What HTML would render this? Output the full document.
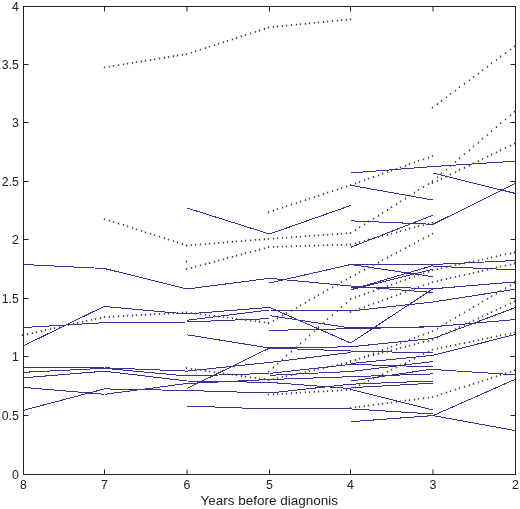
<!DOCTYPE html>
<html><head><meta charset="utf-8"><title>Chart</title>
<style>
html,body{margin:0;padding:0;background:#fff;width:520px;height:509px;overflow:hidden;}
svg{display:block;font-family:"Liberation Sans",sans-serif;}
</style></head><body>
<svg width="520" height="509" viewBox="0 0 520 509"><path d="M23.5 264.5L104.5 268.5M23.5 327.5L104.5 322.7M23.5 345.8L104.5 306.2M23.5 367.4L104.5 367.8M23.5 372.3L104.5 368.3M23.5 377.8L104.5 371.2M23.5 387.4L104.5 394.3M23.5 410.3L104.5 388.9M104.5 268.5L187 289M104.5 306.5L187 314M104.5 322.7L187 322M104.5 367.8L187 371.1M104.5 368.3L187 376M104.5 371.2L187 381M104.5 388.9L187 390.5M104.5 394.3L187 383.5M187 208L269.5 234M187 289L269.5 278.3M187 314L269.5 307.4M187 320.3L269.5 310M187 322L269.5 318.6M187 334.8L269.5 348M187 371.1L269.5 362.4M187 376L269.5 373.4M187 381L269.5 382.4M187 383.5L269.5 379.5M187 388.5L269.5 348M187 390.5L269.5 393M187 406L269.5 409M269.5 234L350.7 205.5M269.5 278.3L350.7 286M269.5 283L350.7 264.5M269.5 307.4L350.7 343M269.5 310L350.7 311M269.5 315.6L350.7 328M269.5 330.4L350.7 328.7M269.5 348L350.7 346.8M269.5 348L350.7 351M269.5 362.4L350.7 352.5M269.5 373.4L350.7 364.4M269.5 375.3L350.7 371.5M269.5 379.5L350.7 376.7M269.5 382.4L350.7 388.6M269.5 393L350.7 384.2M269.5 409L350.7 408.9M350.7 173L433 166.5M350.7 185.3L433 200M350.7 220.8L433 224.3M350.7 247.3L433 215.2M350.7 264.5L433 264.5M350.7 264.5L433 276.7M350.7 289.8L433 265.5M350.7 289.8L433 269.2M350.7 286L433 292.5M350.7 287.5L433 288.2M350.7 343L433 288.8M350.7 311L433 302M350.7 328L433 326.8M350.7 328.7L433 326.8M350.7 346.8L433 338.5M350.7 351L433 353M350.7 363.5L433 355.3M350.7 364.4L433 366.8M350.7 371.5L433 361.5M350.7 376.7L433 373.9M350.7 381.1L433 369M350.7 384.2L433 381M350.7 387.7L433 383.2M350.7 389.5L433 410M350.7 408.9L433 414M350.7 421.7L433 415.6M433 166.5L515.5 161.2M433 173L515.5 193.5M433 224.3L515.5 183.2M433 264.5L515.5 260.5M433 266.2L515.5 269.9M433 288.8L515.5 281.9M433 302L515.5 289.2M433 326.8L515.5 319.5M433 338.5L515.5 307.5M433 355.3L515.5 334.4M433 369.5L515.5 374.8M433 415.6L515.5 379.2M433 415.6L515.5 430.6" stroke="rgb(52,52,150)" stroke-width="1" fill="none" shape-rendering="crispEdges"/><path d="M21.82 334.22h1.35v1.8h-1.35zM26.82 333.21h1.35v1.8h-1.35zM31.82 332.2h1.35v1.8h-1.35zM35.83 331.19h1.35v1.8h-1.35zM40.83 330.18h1.35v1.8h-1.35zM44.83 329.16h1.35v1.8h-1.35zM49.83 328.15h1.35v1.8h-1.35zM53.83 327.14h1.35v1.8h-1.35zM58.83 326.13h1.35v1.8h-1.35zM62.83 325.12h1.35v1.8h-1.35zM67.83 324.11h1.35v1.8h-1.35zM72.83 323.1h1.35v1.8h-1.35zM76.83 322.08h1.35v1.8h-1.35zM81.83 321.07h1.35v1.8h-1.35zM85.83 320.06h1.35v1.8h-1.35zM90.83 319.05h1.35v1.8h-1.35zM94.83 318.04h1.35v1.8h-1.35zM99.83 317.03h1.35v1.8h-1.35zM103.83 316.01h1.35v1.8h-1.35zM103.83 66.54h1.35v1.8h-1.35zM108.83 65.79h1.35v1.8h-1.35zM112.83 65.05h1.35v1.8h-1.35zM117.83 64.3h1.35v1.8h-1.35zM122.83 63.56h1.35v1.8h-1.35zM126.83 62.81h1.35v1.8h-1.35zM131.82 62.07h1.35v1.8h-1.35zM135.82 61.32h1.35v1.8h-1.35zM140.82 60.58h1.35v1.8h-1.35zM144.82 59.83h1.35v1.8h-1.35zM149.82 59.09h1.35v1.8h-1.35zM153.82 58.34h1.35v1.8h-1.35zM158.82 57.6h1.35v1.8h-1.35zM163.82 56.85h1.35v1.8h-1.35zM167.82 56.11h1.35v1.8h-1.35zM172.82 55.36h1.35v1.8h-1.35zM176.82 54.62h1.35v1.8h-1.35zM181.82 53.87h1.35v1.8h-1.35zM185.82 53.13h1.35v1.8h-1.35zM103.83 218.22h1.35v1.8h-1.35zM108.83 219.69h1.35v1.8h-1.35zM112.83 221.15h1.35v1.8h-1.35zM117.83 222.61h1.35v1.8h-1.35zM122.83 224.07h1.35v1.8h-1.35zM126.83 225.53h1.35v1.8h-1.35zM131.82 227h1.35v1.8h-1.35zM135.82 228.46h1.35v1.8h-1.35zM140.82 229.92h1.35v1.8h-1.35zM144.82 231.38h1.35v1.8h-1.35zM149.82 232.84h1.35v1.8h-1.35zM153.82 234.31h1.35v1.8h-1.35zM158.82 235.77h1.35v1.8h-1.35zM163.82 237.23h1.35v1.8h-1.35zM167.82 238.69h1.35v1.8h-1.35zM172.82 240.16h1.35v1.8h-1.35zM176.82 241.62h1.35v1.8h-1.35zM181.82 243.08h1.35v1.8h-1.35zM185.82 244.54h1.35v1.8h-1.35zM103.83 316.08h1.35v1.8h-1.35zM108.83 315.83h1.35v1.8h-1.35zM112.83 315.58h1.35v1.8h-1.35zM117.83 315.33h1.35v1.8h-1.35zM122.83 315.09h1.35v1.8h-1.35zM126.83 314.84h1.35v1.8h-1.35zM131.82 314.59h1.35v1.8h-1.35zM135.82 314.34h1.35v1.8h-1.35zM140.82 314.09h1.35v1.8h-1.35zM144.82 313.84h1.35v1.8h-1.35zM149.82 313.6h1.35v1.8h-1.35zM153.82 313.35h1.35v1.8h-1.35zM158.82 313.1h1.35v1.8h-1.35zM163.82 312.85h1.35v1.8h-1.35zM167.82 312.6h1.35v1.8h-1.35zM172.82 312.35h1.35v1.8h-1.35zM176.82 312.11h1.35v1.8h-1.35zM181.82 311.86h1.35v1.8h-1.35zM185.82 311.61h1.35v1.8h-1.35zM185.82 53.16h1.35v1.8h-1.35zM190.82 51.69h1.35v1.8h-1.35zM194.82 50.21h1.35v1.8h-1.35zM199.82 48.74h1.35v1.8h-1.35zM204.82 47.27h1.35v1.8h-1.35zM208.82 45.79h1.35v1.8h-1.35zM213.82 44.32h1.35v1.8h-1.35zM217.82 42.85h1.35v1.8h-1.35zM222.82 41.37h1.35v1.8h-1.35zM226.82 39.9h1.35v1.8h-1.35zM231.82 38.43h1.35v1.8h-1.35zM235.82 36.95h1.35v1.8h-1.35zM240.82 35.48h1.35v1.8h-1.35zM244.82 34.01h1.35v1.8h-1.35zM249.82 32.53h1.35v1.8h-1.35zM254.82 31.06h1.35v1.8h-1.35zM258.82 29.59h1.35v1.8h-1.35zM263.82 28.11h1.35v1.8h-1.35zM267.82 26.64h1.35v1.8h-1.35zM185.82 244.61h1.35v1.8h-1.35zM190.82 244.24h1.35v1.8h-1.35zM194.82 243.88h1.35v1.8h-1.35zM199.82 243.51h1.35v1.8h-1.35zM204.82 243.14h1.35v1.8h-1.35zM208.82 242.77h1.35v1.8h-1.35zM213.82 242.4h1.35v1.8h-1.35zM217.82 242.03h1.35v1.8h-1.35zM222.82 241.66h1.35v1.8h-1.35zM226.82 241.29h1.35v1.8h-1.35zM231.82 240.92h1.35v1.8h-1.35zM235.82 240.55h1.35v1.8h-1.35zM240.82 240.18h1.35v1.8h-1.35zM244.82 239.81h1.35v1.8h-1.35zM249.82 239.44h1.35v1.8h-1.35zM254.82 239.07h1.35v1.8h-1.35zM258.82 238.7h1.35v1.8h-1.35zM263.82 238.33h1.35v1.8h-1.35zM267.82 237.96h1.35v1.8h-1.35zM185.82 268.15h1.35v1.8h-1.35zM190.82 266.93h1.35v1.8h-1.35zM194.82 265.72h1.35v1.8h-1.35zM199.82 264.51h1.35v1.8h-1.35zM204.82 263.29h1.35v1.8h-1.35zM208.82 262.08h1.35v1.8h-1.35zM213.82 260.86h1.35v1.8h-1.35zM217.82 259.65h1.35v1.8h-1.35zM222.82 258.44h1.35v1.8h-1.35zM226.82 257.22h1.35v1.8h-1.35zM231.82 256.01h1.35v1.8h-1.35zM235.82 254.8h1.35v1.8h-1.35zM240.82 253.58h1.35v1.8h-1.35zM244.82 252.37h1.35v1.8h-1.35zM249.82 251.15h1.35v1.8h-1.35zM254.82 249.94h1.35v1.8h-1.35zM258.82 248.73h1.35v1.8h-1.35zM263.82 247.51h1.35v1.8h-1.35zM267.82 246.3h1.35v1.8h-1.35zM185.82 311.58h1.35v1.8h-1.35zM190.82 312.16h1.35v1.8h-1.35zM194.82 312.74h1.35v1.8h-1.35zM199.82 313.32h1.35v1.8h-1.35zM204.82 313.89h1.35v1.8h-1.35zM208.82 314.47h1.35v1.8h-1.35zM213.82 315.05h1.35v1.8h-1.35zM217.82 315.63h1.35v1.8h-1.35zM222.82 316.21h1.35v1.8h-1.35zM226.82 316.79h1.35v1.8h-1.35zM231.82 317.37h1.35v1.8h-1.35zM235.82 317.95h1.35v1.8h-1.35zM240.82 318.53h1.35v1.8h-1.35zM244.82 319.11h1.35v1.8h-1.35zM249.82 319.69h1.35v1.8h-1.35zM254.82 320.27h1.35v1.8h-1.35zM258.82 320.85h1.35v1.8h-1.35zM263.82 321.43h1.35v1.8h-1.35zM267.82 322.01h1.35v1.8h-1.35zM185.82 367.27h1.35v1.8h-1.35zM190.82 367.93h1.35v1.8h-1.35zM194.82 368.58h1.35v1.8h-1.35zM199.82 369.23h1.35v1.8h-1.35zM204.82 369.88h1.35v1.8h-1.35zM208.82 370.53h1.35v1.8h-1.35zM213.82 371.18h1.35v1.8h-1.35zM217.82 371.83h1.35v1.8h-1.35zM222.82 372.48h1.35v1.8h-1.35zM226.82 373.13h1.35v1.8h-1.35zM231.82 373.78h1.35v1.8h-1.35zM235.82 374.44h1.35v1.8h-1.35zM240.82 375.09h1.35v1.8h-1.35zM244.82 375.74h1.35v1.8h-1.35zM249.82 376.39h1.35v1.8h-1.35zM254.82 377.04h1.35v1.8h-1.35zM258.82 377.69h1.35v1.8h-1.35zM263.82 378.34h1.35v1.8h-1.35zM267.82 378.99h1.35v1.8h-1.35zM267.82 26.47h1.35v1.8h-1.35zM272.82 26.02h1.35v1.8h-1.35zM276.82 25.58h1.35v1.8h-1.35zM281.82 25.13h1.35v1.8h-1.35zM285.82 24.68h1.35v1.8h-1.35zM290.82 24.23h1.35v1.8h-1.35zM295.82 23.78h1.35v1.8h-1.35zM299.82 23.33h1.35v1.8h-1.35zM304.82 22.89h1.35v1.8h-1.35zM308.82 22.44h1.35v1.8h-1.35zM313.82 21.99h1.35v1.8h-1.35zM317.82 21.54h1.35v1.8h-1.35zM322.82 21.09h1.35v1.8h-1.35zM326.82 20.64h1.35v1.8h-1.35zM331.82 20.19h1.35v1.8h-1.35zM336.82 19.75h1.35v1.8h-1.35zM340.82 19.3h1.35v1.8h-1.35zM345.82 18.85h1.35v1.8h-1.35zM349.82 18.4h1.35v1.8h-1.35zM267.82 211.35h1.35v1.8h-1.35zM272.82 209.83h1.35v1.8h-1.35zM276.82 208.32h1.35v1.8h-1.35zM281.82 206.81h1.35v1.8h-1.35zM285.82 205.29h1.35v1.8h-1.35zM290.82 203.78h1.35v1.8h-1.35zM295.82 202.27h1.35v1.8h-1.35zM299.82 200.75h1.35v1.8h-1.35zM304.82 199.24h1.35v1.8h-1.35zM308.82 197.73h1.35v1.8h-1.35zM313.82 196.21h1.35v1.8h-1.35zM317.82 194.7h1.35v1.8h-1.35zM322.82 193.18h1.35v1.8h-1.35zM326.82 191.67h1.35v1.8h-1.35zM331.82 190.16h1.35v1.8h-1.35zM336.82 188.64h1.35v1.8h-1.35zM340.82 187.13h1.35v1.8h-1.35zM345.82 185.62h1.35v1.8h-1.35zM349.82 184.1h1.35v1.8h-1.35zM267.82 237.95h1.35v1.8h-1.35zM272.82 237.63h1.35v1.8h-1.35zM276.82 237.3h1.35v1.8h-1.35zM281.82 236.98h1.35v1.8h-1.35zM285.82 236.65h1.35v1.8h-1.35zM290.82 236.33h1.35v1.8h-1.35zM295.82 236h1.35v1.8h-1.35zM299.82 235.68h1.35v1.8h-1.35zM304.82 235.35h1.35v1.8h-1.35zM308.82 235.03h1.35v1.8h-1.35zM313.82 234.7h1.35v1.8h-1.35zM317.82 234.38h1.35v1.8h-1.35zM322.82 234.05h1.35v1.8h-1.35zM326.82 233.73h1.35v1.8h-1.35zM331.82 233.4h1.35v1.8h-1.35zM336.82 233.08h1.35v1.8h-1.35zM340.82 232.75h1.35v1.8h-1.35zM345.82 232.43h1.35v1.8h-1.35zM349.82 232.1h1.35v1.8h-1.35zM267.82 246.12h1.35v1.8h-1.35zM272.82 245.98h1.35v1.8h-1.35zM276.82 245.84h1.35v1.8h-1.35zM281.82 245.7h1.35v1.8h-1.35zM285.82 245.56h1.35v1.8h-1.35zM290.82 245.42h1.35v1.8h-1.35zM295.82 245.28h1.35v1.8h-1.35zM299.82 245.14h1.35v1.8h-1.35zM304.82 245h1.35v1.8h-1.35zM308.82 244.86h1.35v1.8h-1.35zM313.82 244.72h1.35v1.8h-1.35zM317.82 244.58h1.35v1.8h-1.35zM322.82 244.44h1.35v1.8h-1.35zM326.82 244.3h1.35v1.8h-1.35zM331.82 244.16h1.35v1.8h-1.35zM336.82 244.02h1.35v1.8h-1.35zM340.82 243.88h1.35v1.8h-1.35zM345.82 243.74h1.35v1.8h-1.35zM349.82 243.6h1.35v1.8h-1.35zM267.82 322.52h1.35v1.8h-1.35zM272.82 319.94h1.35v1.8h-1.35zM276.82 317.36h1.35v1.8h-1.35zM281.82 314.79h1.35v1.8h-1.35zM285.82 312.21h1.35v1.8h-1.35zM290.82 309.63h1.35v1.8h-1.35zM295.82 307.05h1.35v1.8h-1.35zM299.82 304.47h1.35v1.8h-1.35zM304.82 301.89h1.35v1.8h-1.35zM308.82 299.31h1.35v1.8h-1.35zM313.82 296.73h1.35v1.8h-1.35zM317.82 294.16h1.35v1.8h-1.35zM322.82 291.58h1.35v1.8h-1.35zM326.82 289h1.35v1.8h-1.35zM331.82 286.42h1.35v1.8h-1.35zM336.82 283.84h1.35v1.8h-1.35zM340.82 281.26h1.35v1.8h-1.35zM345.82 278.68h1.35v1.8h-1.35zM349.82 276.1h1.35v1.8h-1.35zM267.82 370.76h1.35v1.8h-1.35zM272.82 366.72h1.35v1.8h-1.35zM276.82 362.69h1.35v1.8h-1.35zM281.82 358.65h1.35v1.8h-1.35zM285.82 354.61h1.35v1.8h-1.35zM290.82 350.58h1.35v1.8h-1.35zM295.82 346.54h1.35v1.8h-1.35zM299.82 342.51h1.35v1.8h-1.35zM304.82 338.47h1.35v1.8h-1.35zM308.82 334.43h1.35v1.8h-1.35zM313.82 330.4h1.35v1.8h-1.35zM317.82 326.36h1.35v1.8h-1.35zM322.82 322.32h1.35v1.8h-1.35zM326.82 318.29h1.35v1.8h-1.35zM331.82 314.25h1.35v1.8h-1.35zM336.82 310.22h1.35v1.8h-1.35zM340.82 306.18h1.35v1.8h-1.35zM345.82 302.14h1.35v1.8h-1.35zM349.82 298.11h1.35v1.8h-1.35zM267.82 379.26h1.35v1.8h-1.35zM272.82 378.26h1.35v1.8h-1.35zM276.82 377.25h1.35v1.8h-1.35zM281.82 376.24h1.35v1.8h-1.35zM285.82 375.23h1.35v1.8h-1.35zM290.82 374.22h1.35v1.8h-1.35zM295.82 373.21h1.35v1.8h-1.35zM299.82 372.2h1.35v1.8h-1.35zM304.82 371.19h1.35v1.8h-1.35zM308.82 370.18h1.35v1.8h-1.35zM313.82 369.17h1.35v1.8h-1.35zM317.82 368.17h1.35v1.8h-1.35zM322.82 367.16h1.35v1.8h-1.35zM326.82 366.15h1.35v1.8h-1.35zM331.82 365.14h1.35v1.8h-1.35zM336.82 364.13h1.35v1.8h-1.35zM340.82 363.12h1.35v1.8h-1.35zM345.82 362.11h1.35v1.8h-1.35zM349.82 361.1h1.35v1.8h-1.35zM267.82 393.74h1.35v1.8h-1.35zM272.82 393.47h1.35v1.8h-1.35zM276.82 393.2h1.35v1.8h-1.35zM281.82 392.92h1.35v1.8h-1.35zM285.82 392.65h1.35v1.8h-1.35zM290.82 392.37h1.35v1.8h-1.35zM295.82 392.1h1.35v1.8h-1.35zM299.82 391.82h1.35v1.8h-1.35zM304.82 391.55h1.35v1.8h-1.35zM308.82 391.27h1.35v1.8h-1.35zM313.82 391h1.35v1.8h-1.35zM317.82 390.72h1.35v1.8h-1.35zM322.82 390.45h1.35v1.8h-1.35zM326.82 390.17h1.35v1.8h-1.35zM331.82 389.9h1.35v1.8h-1.35zM336.82 389.62h1.35v1.8h-1.35zM340.82 389.35h1.35v1.8h-1.35zM345.82 389.08h1.35v1.8h-1.35zM349.82 388.8h1.35v1.8h-1.35zM349.82 184.1h1.35v1.8h-1.35zM354.82 182.5h1.35v1.8h-1.35zM358.82 180.89h1.35v1.8h-1.35zM363.82 179.29h1.35v1.8h-1.35zM367.82 177.69h1.35v1.8h-1.35zM372.82 176.08h1.35v1.8h-1.35zM377.82 174.48h1.35v1.8h-1.35zM381.82 172.87h1.35v1.8h-1.35zM386.82 171.27h1.35v1.8h-1.35zM390.82 169.67h1.35v1.8h-1.35zM395.82 168.06h1.35v1.8h-1.35zM399.82 166.46h1.35v1.8h-1.35zM404.82 164.85h1.35v1.8h-1.35zM408.82 163.25h1.35v1.8h-1.35zM413.82 161.65h1.35v1.8h-1.35zM417.82 160.04h1.35v1.8h-1.35zM422.82 158.44h1.35v1.8h-1.35zM427.82 156.84h1.35v1.8h-1.35zM431.82 155.23h1.35v1.8h-1.35zM349.82 232.11h1.35v1.8h-1.35zM354.82 229.23h1.35v1.8h-1.35zM358.82 226.35h1.35v1.8h-1.35zM363.82 223.48h1.35v1.8h-1.35zM367.82 220.6h1.35v1.8h-1.35zM372.82 217.72h1.35v1.8h-1.35zM377.82 214.85h1.35v1.8h-1.35zM381.82 211.97h1.35v1.8h-1.35zM386.82 209.1h1.35v1.8h-1.35zM390.82 206.22h1.35v1.8h-1.35zM395.82 203.34h1.35v1.8h-1.35zM399.82 200.47h1.35v1.8h-1.35zM404.82 197.59h1.35v1.8h-1.35zM408.82 194.72h1.35v1.8h-1.35zM413.82 191.84h1.35v1.8h-1.35zM417.82 188.96h1.35v1.8h-1.35zM422.82 186.09h1.35v1.8h-1.35zM427.82 183.21h1.35v1.8h-1.35zM431.82 180.34h1.35v1.8h-1.35zM349.82 243.6h1.35v1.8h-1.35zM354.82 242.39h1.35v1.8h-1.35zM358.82 241.17h1.35v1.8h-1.35zM363.82 239.95h1.35v1.8h-1.35zM367.82 238.73h1.35v1.8h-1.35zM372.82 237.52h1.35v1.8h-1.35zM377.82 236.3h1.35v1.8h-1.35zM381.82 235.08h1.35v1.8h-1.35zM386.82 233.87h1.35v1.8h-1.35zM390.82 232.65h1.35v1.8h-1.35zM395.82 231.43h1.35v1.8h-1.35zM399.82 230.22h1.35v1.8h-1.35zM404.82 229h1.35v1.8h-1.35zM408.82 227.78h1.35v1.8h-1.35zM413.82 226.57h1.35v1.8h-1.35zM417.82 225.35h1.35v1.8h-1.35zM422.82 224.13h1.35v1.8h-1.35zM427.82 222.92h1.35v1.8h-1.35zM431.82 221.7h1.35v1.8h-1.35zM349.82 276.1h1.35v1.8h-1.35zM354.82 273.7h1.35v1.8h-1.35zM358.82 271.29h1.35v1.8h-1.35zM363.82 268.89h1.35v1.8h-1.35zM367.82 266.48h1.35v1.8h-1.35zM372.82 264.07h1.35v1.8h-1.35zM377.82 261.67h1.35v1.8h-1.35zM381.82 259.26h1.35v1.8h-1.35zM386.82 256.86h1.35v1.8h-1.35zM390.82 254.45h1.35v1.8h-1.35zM395.82 252.04h1.35v1.8h-1.35zM399.82 249.64h1.35v1.8h-1.35zM404.82 247.23h1.35v1.8h-1.35zM408.82 244.83h1.35v1.8h-1.35zM413.82 242.42h1.35v1.8h-1.35zM417.82 240.01h1.35v1.8h-1.35zM422.82 237.61h1.35v1.8h-1.35zM427.82 235.2h1.35v1.8h-1.35zM431.82 232.8h1.35v1.8h-1.35zM349.82 298.1h1.35v1.8h-1.35zM354.82 296.5h1.35v1.8h-1.35zM358.82 294.89h1.35v1.8h-1.35zM363.82 293.29h1.35v1.8h-1.35zM367.82 291.69h1.35v1.8h-1.35zM372.82 290.08h1.35v1.8h-1.35zM377.82 288.48h1.35v1.8h-1.35zM381.82 286.87h1.35v1.8h-1.35zM386.82 285.27h1.35v1.8h-1.35zM390.82 283.67h1.35v1.8h-1.35zM395.82 282.06h1.35v1.8h-1.35zM399.82 280.46h1.35v1.8h-1.35zM404.82 278.85h1.35v1.8h-1.35zM408.82 277.25h1.35v1.8h-1.35zM413.82 275.65h1.35v1.8h-1.35zM417.82 274.04h1.35v1.8h-1.35zM422.82 272.44h1.35v1.8h-1.35zM427.82 270.84h1.35v1.8h-1.35zM431.82 269.23h1.35v1.8h-1.35zM349.82 311.1h1.35v1.8h-1.35zM354.82 309.44h1.35v1.8h-1.35zM358.82 307.78h1.35v1.8h-1.35zM363.82 306.13h1.35v1.8h-1.35zM367.82 304.47h1.35v1.8h-1.35zM372.82 302.81h1.35v1.8h-1.35zM377.82 301.15h1.35v1.8h-1.35zM381.82 299.49h1.35v1.8h-1.35zM386.82 297.83h1.35v1.8h-1.35zM390.82 296.17h1.35v1.8h-1.35zM395.82 294.51h1.35v1.8h-1.35zM399.82 292.85h1.35v1.8h-1.35zM404.82 291.19h1.35v1.8h-1.35zM408.82 289.53h1.35v1.8h-1.35zM413.82 287.87h1.35v1.8h-1.35zM417.82 286.21h1.35v1.8h-1.35zM422.82 284.55h1.35v1.8h-1.35zM427.82 282.89h1.35v1.8h-1.35zM431.82 281.24h1.35v1.8h-1.35zM349.82 361.1h1.35v1.8h-1.35zM354.82 359.39h1.35v1.8h-1.35zM358.82 357.67h1.35v1.8h-1.35zM363.82 355.96h1.35v1.8h-1.35zM367.82 354.24h1.35v1.8h-1.35zM372.82 352.53h1.35v1.8h-1.35zM377.82 350.82h1.35v1.8h-1.35zM381.82 349.1h1.35v1.8h-1.35zM386.82 347.39h1.35v1.8h-1.35zM390.82 345.67h1.35v1.8h-1.35zM395.82 343.96h1.35v1.8h-1.35zM399.82 342.24h1.35v1.8h-1.35zM404.82 340.53h1.35v1.8h-1.35zM408.82 338.81h1.35v1.8h-1.35zM413.82 337.1h1.35v1.8h-1.35zM417.82 335.38h1.35v1.8h-1.35zM422.82 333.67h1.35v1.8h-1.35zM427.82 331.95h1.35v1.8h-1.35zM431.82 330.24h1.35v1.8h-1.35zM349.82 360.1h1.35v1.8h-1.35zM354.82 358.91h1.35v1.8h-1.35zM358.82 357.72h1.35v1.8h-1.35zM363.82 356.53h1.35v1.8h-1.35zM367.82 355.35h1.35v1.8h-1.35zM372.82 354.16h1.35v1.8h-1.35zM377.82 352.97h1.35v1.8h-1.35zM381.82 351.78h1.35v1.8h-1.35zM386.82 350.59h1.35v1.8h-1.35zM390.82 349.4h1.35v1.8h-1.35zM395.82 348.21h1.35v1.8h-1.35zM399.82 347.02h1.35v1.8h-1.35zM404.82 345.83h1.35v1.8h-1.35zM408.82 344.64h1.35v1.8h-1.35zM413.82 343.45h1.35v1.8h-1.35zM417.82 342.26h1.35v1.8h-1.35zM422.82 341.08h1.35v1.8h-1.35zM427.82 339.89h1.35v1.8h-1.35zM431.82 338.7h1.35v1.8h-1.35zM349.82 388.8h1.35v1.8h-1.35zM354.82 386.58h1.35v1.8h-1.35zM358.82 384.36h1.35v1.8h-1.35zM363.82 382.13h1.35v1.8h-1.35zM367.82 379.91h1.35v1.8h-1.35zM372.82 377.69h1.35v1.8h-1.35zM377.82 375.46h1.35v1.8h-1.35zM381.82 373.24h1.35v1.8h-1.35zM386.82 371.02h1.35v1.8h-1.35zM390.82 368.79h1.35v1.8h-1.35zM395.82 366.57h1.35v1.8h-1.35zM399.82 364.35h1.35v1.8h-1.35zM404.82 362.12h1.35v1.8h-1.35zM408.82 359.9h1.35v1.8h-1.35zM413.82 357.68h1.35v1.8h-1.35zM417.82 355.45h1.35v1.8h-1.35zM422.82 353.23h1.35v1.8h-1.35zM427.82 351.01h1.35v1.8h-1.35zM431.82 348.78h1.35v1.8h-1.35zM349.82 407.1h1.35v1.8h-1.35zM354.82 406.49h1.35v1.8h-1.35zM358.82 405.88h1.35v1.8h-1.35zM363.82 405.28h1.35v1.8h-1.35zM367.82 404.67h1.35v1.8h-1.35zM372.82 404.06h1.35v1.8h-1.35zM377.82 403.45h1.35v1.8h-1.35zM381.82 402.84h1.35v1.8h-1.35zM386.82 402.23h1.35v1.8h-1.35zM390.82 401.63h1.35v1.8h-1.35zM395.82 401.02h1.35v1.8h-1.35zM399.82 400.41h1.35v1.8h-1.35zM404.82 399.8h1.35v1.8h-1.35zM408.82 399.19h1.35v1.8h-1.35zM413.82 398.58h1.35v1.8h-1.35zM417.82 397.97h1.35v1.8h-1.35zM422.82 397.37h1.35v1.8h-1.35zM427.82 396.76h1.35v1.8h-1.35zM431.82 396.15h1.35v1.8h-1.35zM431.82 106.68h1.35v1.8h-1.35zM436.82 103.27h1.35v1.8h-1.35zM440.82 99.87h1.35v1.8h-1.35zM445.82 96.47h1.35v1.8h-1.35zM449.82 93.06h1.35v1.8h-1.35zM454.82 89.66h1.35v1.8h-1.35zM458.82 86.25h1.35v1.8h-1.35zM463.82 82.85h1.35v1.8h-1.35zM468.82 79.44h1.35v1.8h-1.35zM472.82 76.04h1.35v1.8h-1.35zM477.82 72.63h1.35v1.8h-1.35zM481.82 69.23h1.35v1.8h-1.35zM486.82 65.83h1.35v1.8h-1.35zM490.82 62.42h1.35v1.8h-1.35zM495.82 59.02h1.35v1.8h-1.35zM499.82 55.61h1.35v1.8h-1.35zM504.82 52.21h1.35v1.8h-1.35zM509.82 48.8h1.35v1.8h-1.35zM513.83 45.4h1.35v1.8h-1.35zM431.82 180.42h1.35v1.8h-1.35zM436.82 176.54h1.35v1.8h-1.35zM440.82 172.67h1.35v1.8h-1.35zM445.82 168.8h1.35v1.8h-1.35zM449.82 164.92h1.35v1.8h-1.35zM454.82 161.05h1.35v1.8h-1.35zM458.82 157.18h1.35v1.8h-1.35zM463.82 153.3h1.35v1.8h-1.35zM468.82 149.43h1.35v1.8h-1.35zM472.82 145.56h1.35v1.8h-1.35zM477.82 141.68h1.35v1.8h-1.35zM481.82 137.81h1.35v1.8h-1.35zM486.82 133.94h1.35v1.8h-1.35zM490.82 130.06h1.35v1.8h-1.35zM495.82 126.19h1.35v1.8h-1.35zM499.82 122.32h1.35v1.8h-1.35zM504.82 118.44h1.35v1.8h-1.35zM509.82 114.57h1.35v1.8h-1.35zM513.83 110.7h1.35v1.8h-1.35zM431.82 182.28h1.35v1.8h-1.35zM436.82 180.07h1.35v1.8h-1.35zM440.82 177.87h1.35v1.8h-1.35zM445.82 175.66h1.35v1.8h-1.35zM449.82 173.45h1.35v1.8h-1.35zM454.82 171.25h1.35v1.8h-1.35zM458.82 169.04h1.35v1.8h-1.35zM463.82 166.83h1.35v1.8h-1.35zM468.82 164.62h1.35v1.8h-1.35zM472.82 162.42h1.35v1.8h-1.35zM477.82 160.21h1.35v1.8h-1.35zM481.82 158h1.35v1.8h-1.35zM486.82 155.8h1.35v1.8h-1.35zM490.82 153.59h1.35v1.8h-1.35zM495.82 151.38h1.35v1.8h-1.35zM499.82 149.17h1.35v1.8h-1.35zM504.82 146.97h1.35v1.8h-1.35zM509.82 144.76h1.35v1.8h-1.35zM513.83 142.55h1.35v1.8h-1.35zM431.82 269.18h1.35v1.8h-1.35zM436.82 268.2h1.35v1.8h-1.35zM440.82 267.23h1.35v1.8h-1.35zM445.82 266.25h1.35v1.8h-1.35zM449.82 265.27h1.35v1.8h-1.35zM454.82 264.3h1.35v1.8h-1.35zM458.82 263.32h1.35v1.8h-1.35zM463.82 262.34h1.35v1.8h-1.35zM468.82 261.37h1.35v1.8h-1.35zM472.82 260.39h1.35v1.8h-1.35zM477.82 259.41h1.35v1.8h-1.35zM481.82 258.44h1.35v1.8h-1.35zM486.82 257.46h1.35v1.8h-1.35zM490.82 256.48h1.35v1.8h-1.35zM495.82 255.51h1.35v1.8h-1.35zM499.82 254.53h1.35v1.8h-1.35zM504.82 253.55h1.35v1.8h-1.35zM509.82 252.58h1.35v1.8h-1.35zM513.83 251.6h1.35v1.8h-1.35zM431.82 281.18h1.35v1.8h-1.35zM436.82 280.15h1.35v1.8h-1.35zM440.82 279.12h1.35v1.8h-1.35zM445.82 278.09h1.35v1.8h-1.35zM449.82 277.06h1.35v1.8h-1.35zM454.82 276.03h1.35v1.8h-1.35zM458.82 274.99h1.35v1.8h-1.35zM463.82 273.96h1.35v1.8h-1.35zM468.82 272.93h1.35v1.8h-1.35zM472.82 271.9h1.35v1.8h-1.35zM477.82 270.87h1.35v1.8h-1.35zM481.82 269.83h1.35v1.8h-1.35zM486.82 268.8h1.35v1.8h-1.35zM490.82 267.77h1.35v1.8h-1.35zM495.82 266.74h1.35v1.8h-1.35zM499.82 265.71h1.35v1.8h-1.35zM504.82 264.68h1.35v1.8h-1.35zM509.82 263.64h1.35v1.8h-1.35zM513.83 262.61h1.35v1.8h-1.35zM431.82 330.32h1.35v1.8h-1.35zM436.82 327.63h1.35v1.8h-1.35zM440.82 324.93h1.35v1.8h-1.35zM445.82 322.24h1.35v1.8h-1.35zM449.82 319.55h1.35v1.8h-1.35zM454.82 316.86h1.35v1.8h-1.35zM458.82 314.16h1.35v1.8h-1.35zM463.82 311.47h1.35v1.8h-1.35zM468.82 308.78h1.35v1.8h-1.35zM472.82 306.09h1.35v1.8h-1.35zM477.82 303.39h1.35v1.8h-1.35zM481.82 300.7h1.35v1.8h-1.35zM486.82 298.01h1.35v1.8h-1.35zM490.82 295.32h1.35v1.8h-1.35zM495.82 292.62h1.35v1.8h-1.35zM499.82 289.93h1.35v1.8h-1.35zM504.82 287.24h1.35v1.8h-1.35zM509.82 284.55h1.35v1.8h-1.35zM513.83 281.85h1.35v1.8h-1.35zM431.82 338.77h1.35v1.8h-1.35zM436.82 336.65h1.35v1.8h-1.35zM440.82 334.53h1.35v1.8h-1.35zM445.82 332.4h1.35v1.8h-1.35zM449.82 330.28h1.35v1.8h-1.35zM454.82 328.15h1.35v1.8h-1.35zM458.82 326.03h1.35v1.8h-1.35zM463.82 323.9h1.35v1.8h-1.35zM468.82 321.78h1.35v1.8h-1.35zM472.82 319.66h1.35v1.8h-1.35zM477.82 317.53h1.35v1.8h-1.35zM481.82 315.41h1.35v1.8h-1.35zM486.82 313.28h1.35v1.8h-1.35zM490.82 311.16h1.35v1.8h-1.35zM495.82 309.03h1.35v1.8h-1.35zM499.82 306.91h1.35v1.8h-1.35zM504.82 304.79h1.35v1.8h-1.35zM509.82 302.66h1.35v1.8h-1.35zM513.83 300.54h1.35v1.8h-1.35zM431.82 348.68h1.35v1.8h-1.35zM436.82 347.74h1.35v1.8h-1.35zM440.82 346.8h1.35v1.8h-1.35zM445.82 345.86h1.35v1.8h-1.35zM449.82 344.92h1.35v1.8h-1.35zM454.82 343.99h1.35v1.8h-1.35zM458.82 343.05h1.35v1.8h-1.35zM463.82 342.11h1.35v1.8h-1.35zM468.82 341.17h1.35v1.8h-1.35zM472.82 340.23h1.35v1.8h-1.35zM477.82 339.3h1.35v1.8h-1.35zM481.82 338.36h1.35v1.8h-1.35zM486.82 337.42h1.35v1.8h-1.35zM490.82 336.48h1.35v1.8h-1.35zM495.82 335.54h1.35v1.8h-1.35zM499.82 334.61h1.35v1.8h-1.35zM504.82 333.67h1.35v1.8h-1.35zM509.82 332.73h1.35v1.8h-1.35zM513.83 331.79h1.35v1.8h-1.35zM431.82 396.22h1.35v1.8h-1.35zM436.82 394.74h1.35v1.8h-1.35zM440.82 393.25h1.35v1.8h-1.35zM445.82 391.77h1.35v1.8h-1.35zM449.82 390.28h1.35v1.8h-1.35zM454.82 388.8h1.35v1.8h-1.35zM458.82 387.32h1.35v1.8h-1.35zM463.82 385.83h1.35v1.8h-1.35zM468.82 384.35h1.35v1.8h-1.35zM472.82 382.86h1.35v1.8h-1.35zM477.82 381.38h1.35v1.8h-1.35zM481.82 379.89h1.35v1.8h-1.35zM486.82 378.41h1.35v1.8h-1.35zM490.82 376.93h1.35v1.8h-1.35zM495.82 375.44h1.35v1.8h-1.35zM499.82 373.96h1.35v1.8h-1.35zM504.82 372.47h1.35v1.8h-1.35zM509.82 370.99h1.35v1.8h-1.35zM513.83 369.51h1.35v1.8h-1.35zM185.82 260.6h1.35v1.8h-1.35z" fill="rgb(92,60,56)"/><rect x="23.5" y="6.5" width="492" height="468" fill="none" stroke="#222" stroke-width="1"/><path d="M23.5 474.5h5M515.5 474.5h-5M23.5 415.5h5M515.5 415.5h-5M23.5 356.5h5M515.5 356.5h-5M23.5 298.5h5M515.5 298.5h-5M23.5 239.5h5M515.5 239.5h-5M23.5 181.5h5M515.5 181.5h-5M23.5 122.5h5M515.5 122.5h-5M23.5 64.5h5M515.5 64.5h-5M23.5 6.5h5M515.5 6.5h-5M104.5 474.5v-5M104.5 6.5v5M187 474.5v-5M187 6.5v5M269.5 474.5v-5M269.5 6.5v5M350.5 474.5v-5M350.5 6.5v5M433 474.5v-5M433 6.5v5" stroke="#222" stroke-width="1" fill="none"/><g font-family="Liberation Sans, sans-serif" font-size="12.3" fill="#222" style="filter:grayscale(1)"><text x="18.8" y="478.5" text-anchor="end">0</text><text x="18.8" y="419.5" text-anchor="end">0.5</text><text x="18.8" y="360.5" text-anchor="end">1</text><text x="18.8" y="302.5" text-anchor="end">1.5</text><text x="18.8" y="243.5" text-anchor="end">2</text><text x="18.8" y="185.5" text-anchor="end">2.5</text><text x="18.8" y="126.5" text-anchor="end">3</text><text x="18.8" y="68.5" text-anchor="end">3.5</text><text x="18.8" y="10.5" text-anchor="end">4</text><text x="23.5" y="489" text-anchor="middle">8</text><text x="104.5" y="489" text-anchor="middle">7</text><text x="187" y="489" text-anchor="middle">6</text><text x="269.5" y="489" text-anchor="middle">5</text><text x="350.5" y="489" text-anchor="middle">4</text><text x="433" y="489" text-anchor="middle">3</text><text x="515.5" y="489" text-anchor="middle">2</text><text x="269.3" y="505" text-anchor="middle" font-size="13.5">Years before diagnonis</text></g></svg>
</body></html>
